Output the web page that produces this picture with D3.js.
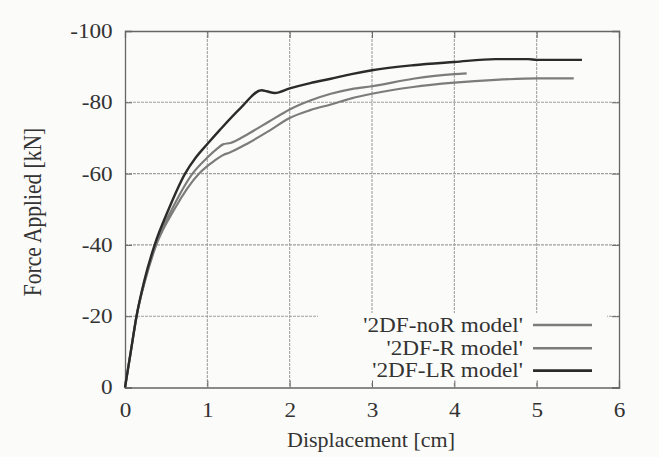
<!DOCTYPE html>
<html><head><meta charset="utf-8">
<script src="https://cdn.jsdelivr.net/npm/d3@7"></script>
<style>body{margin:0;background:#fbfbf9}svg{display:block}</style>
</head><body><svg id="c" width="659" height="457"></svg>
<script>
const xTicks = [0,1,2,3,4,5,6];
const yTicks = [0,-20,-40,-60,-80,-100];
const seriesNames = ["'2DF-noR model'","'2DF-R model'","'2DF-LR model'"];
const noR = [[0,0],[0.07,-10],[0.14,-20],[0.245,-30],[0.38,-40],[0.6,-50],[0.9,-60],[1.05,-63],[1.2,-65.3],[1.26,-65.8],[1.5,-68.6],[1.75,-72],[2.0,-75.6],[2.25,-77.8],[2.5,-79.4],[2.75,-81.1],[3.0,-82.4],[3.5,-84.3],[4.0,-85.5],[4.5,-86.3],[5.0,-86.7],[5.45,-86.7]];
const R = [[0,0],[0.07,-10],[0.14,-20],[0.24,-30],[0.37,-40],[0.57,-50],[0.82,-60],[1.0,-64.5],[1.12,-67],[1.19,-68.2],[1.28,-68.6],[1.5,-71.2],[1.75,-74.6],[2.0,-78.0],[2.25,-80.5],[2.5,-82.4],[2.75,-83.7],[3.0,-84.5],[3.5,-86.6],[4.0,-87.9],[4.15,-88.1]];
const LR = [[0,0],[0.07,-10],[0.14,-20],[0.235,-30],[0.36,-40],[0.53,-50],[0.73,-60],[0.86,-64.5],[1.0,-68.3],[1.15,-72.2],[1.4,-78.3],[1.66,-83.4],[1.72,-83.1],[1.82,-82.6],[2.0,-83.9],[2.25,-85.4],[2.5,-86.6],[2.75,-87.9],[3.0,-89.0],[3.5,-90.4],[4.0,-91.3],[4.5,-92.1],[4.9,-92.1],[5.0,-91.9],[5.55,-91.9]];
const seriesData = [noR, R, LR];
const colors = ["#7c7c7c","#7c7c7c","#2b2b2b"];
const widths = [2.2,2.2,2.4];

const svg = d3.select("#c");
const L=125,Rt=619,T=31,B=387.5;
const x = d3.scaleLinear().domain([0,6]).range([L,Rt]);
const y = d3.scaleLinear().domain([0,-100]).range([B,T]);
const FONT = "Liberation Serif";
const SX = 1.16; // horizontal stretch of glyphs seen in the reference

// grid
const g = svg.append("g");
g.selectAll(".gx").data(xTicks.slice(1,-1)).join("line")
 .attr("x1",d=>x(d)).attr("x2",d=>x(d)).attr("y1",T).attr("y2",B)
 .attr("stroke","#a0a0a0").attr("stroke-width",1.1).attr("stroke-dasharray","3,1");
g.selectAll(".gy").data(yTicks.slice(1,-1)).join("line")
 .attr("y1",d=>y(d)).attr("y2",d=>y(d)).attr("x1",L).attr("x2",Rt)
 .attr("stroke","#a0a0a0").attr("stroke-width",1.1).attr("stroke-dasharray","3,1");

// legend box (opaque) covering grid
svg.append("rect").attr("x",318).attr("y",313).attr("width",289).attr("height",69).attr("fill","#fbfbf9");

// axes
const fmt = d => String(d);
const ax = svg.append("g").attr("transform",`translate(0,${B})`).call(d3.axisBottom(x).tickValues(xTicks).tickFormat(fmt).tickSize(-7).tickPadding(15));
const ay = svg.append("g").attr("transform",`translate(${L},0)`).call(d3.axisLeft(y).tickValues(yTicks).tickFormat(fmt).tickSize(-7).tickPadding(12.3/SX));
const axT = svg.append("g").attr("transform",`translate(0,${T})`).call(d3.axisTop(x).tickValues(xTicks).tickSize(-7).tickFormat(""));
const ayR = svg.append("g").attr("transform",`translate(${Rt},0)`).call(d3.axisRight(y).tickValues(yTicks).tickSize(-7).tickFormat(""));
[ax,ay,axT,ayR].forEach(a=>{
 a.attr("font-family",FONT).attr("font-size",20);
 a.select(".domain").attr("stroke","#666").attr("stroke-width",1.3);
 a.selectAll(".tick line").attr("stroke","#666");
 a.selectAll("text").attr("fill","#333").attr("transform",`scale(${SX},1)`);
});

// lines
const line = d3.line().x(d=>x(d[0])).y(d=>y(d[1])).curve(d3.curveMonotoneX);
seriesData.forEach((s,i)=>{
 svg.append("path").datum(s).attr("d",line).attr("fill","none").attr("stroke",colors[i]).attr("stroke-width",widths[i]).attr("stroke-linejoin","round");
});

// legend
const ly=[325,348.3,370.7];
seriesNames.forEach((n,i)=>{
 svg.append("text").attr("transform",`translate(523,${ly[i]}) scale(${SX},1)`).attr("dy","0.33em")
  .attr("text-anchor","end").attr("font-size",20).attr("font-family",FONT).attr("fill","#333").text(n);
 svg.append("line").attr("x1",533).attr("x2",592).attr("y1",ly[i]).attr("y2",ly[i]).attr("stroke",colors[i]).attr("stroke-width",widths[i]+0.4);
});

// titles
svg.append("text").attr("transform",`translate(371,447) scale(1.1,1)`).attr("text-anchor","middle").attr("font-size",20).attr("font-family",FONT).attr("fill","#333").text("Displacement [cm]");
svg.append("text").attr("transform",`translate(41,212) rotate(-90) scale(1,${SX})`).attr("text-anchor","middle").attr("font-size",21.5).attr("font-family",FONT).attr("fill","#333").text("Force Applied [kN]");
</script></body></html>
